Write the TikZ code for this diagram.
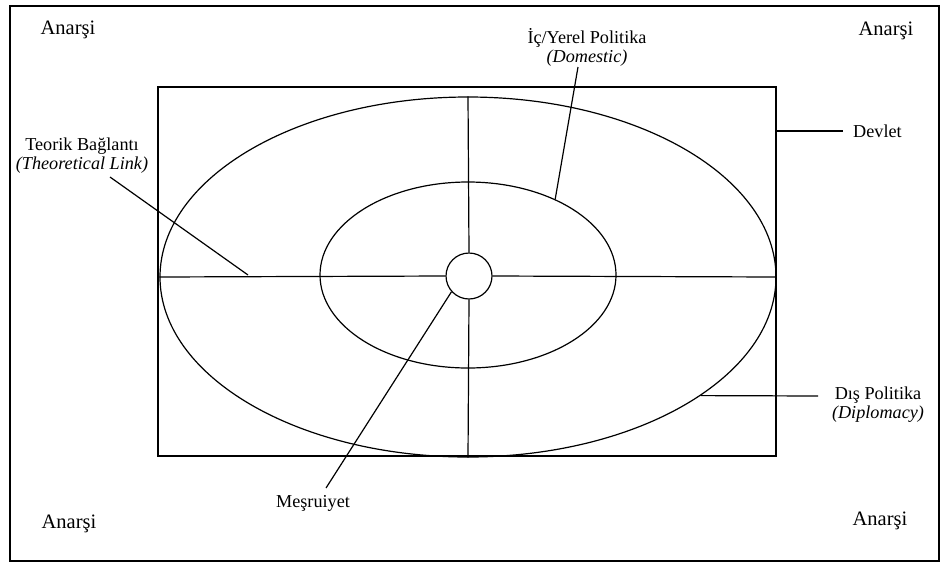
\documentclass[tikz,border=0pt]{standalone}
\usepackage{fontspec}
\setmainfont{Liberation Serif}
\usetikzlibrary{shapes.geometric}

\begin{document}
\begin{tikzpicture}[
    x=1pt, y=-1pt,
    frame/.style={draw, line width=1.8pt, inner sep=0pt},
    ring/.style={ellipse, draw, line width=1.2pt, inner sep=0pt},
    lbl/.style={font=\fontsize{18.2}{19}\selectfont, align=center, inner sep=1pt},
    corner/.style={font=\fontsize{20.5}{22}\selectfont, inner sep=1pt},
    link/.style={line width=1.2pt}
]
    \useasboundingbox (0,0) rectangle (941,568);
    % frames
    \node[frame, minimum width=929pt, minimum height=555pt] (anarsi) at (474.5,283.5) {};
    \node[frame, minimum width=618pt, minimum height=369pt] (devlet) at (467,271.5) {};
    % rings
    \node[ring, minimum width=616pt, minimum height=360pt] (dis) at (468,277) {};
    \node[ring, minimum width=296pt, minimum height=186pt] (yerel) at (468,275) {};
    \node[circle, draw, line width=1.2pt, minimum size=46pt, inner sep=0pt] (mesru) at (469,276) {};

    % spokes
    \draw[link] (dis.west) -- (mesru.west);
    \draw[link] (mesru.east) -- (dis.east);
    \draw[link] (dis.north) -- (mesru.north);
    \draw[link] (mesru.south) -- (dis.south);

    % corner labels
    \node[corner] (a1) at (68,30) {Anarşi};
    \node[corner] (a2) at (886,31) {Anarşi};
    \node[corner] (a3) at (69,524) {Anarşi};
    \node[corner] (a4) at (880,521) {Anarşi};

    % labels with leaders
    \node[lbl] (ic) at (587,47) {İç/Yerel Politika\\\textit{(Domestic)}};
    \node[lbl] (teorik) at (82,156) {Teorik Bağlantı\\\textit{(Theoretical Link)}};
    \node[lbl, anchor=west] (devletlbl) at (852,131) {Devlet};
    \node[lbl] (dislbl) at (878,405) {Dış Politika\\\textit{(Diplomacy)}};
    \node[lbl] (mesrulbl) at (313,503) {Meşruiyet};

    \coordinate (icend) at (578,67);
    \coordinate (tkstart) at (110,177);
    \coordinate (tk) at (248,275);
    \coordinate (disend) at (818,396);
    \coordinate (mesruend) at (326,488);
    \draw[link] (icend) -- (yerel.41);
    \draw[link] (tkstart) -- (tk);
    \draw[link] (devlet.east |- devletlbl) -- ++(66,0);
    \draw[link] (dis.-27) -- (disend);
    \draw[link] (mesruend) -- (mesru.222);
\end{tikzpicture}
\end{document}
